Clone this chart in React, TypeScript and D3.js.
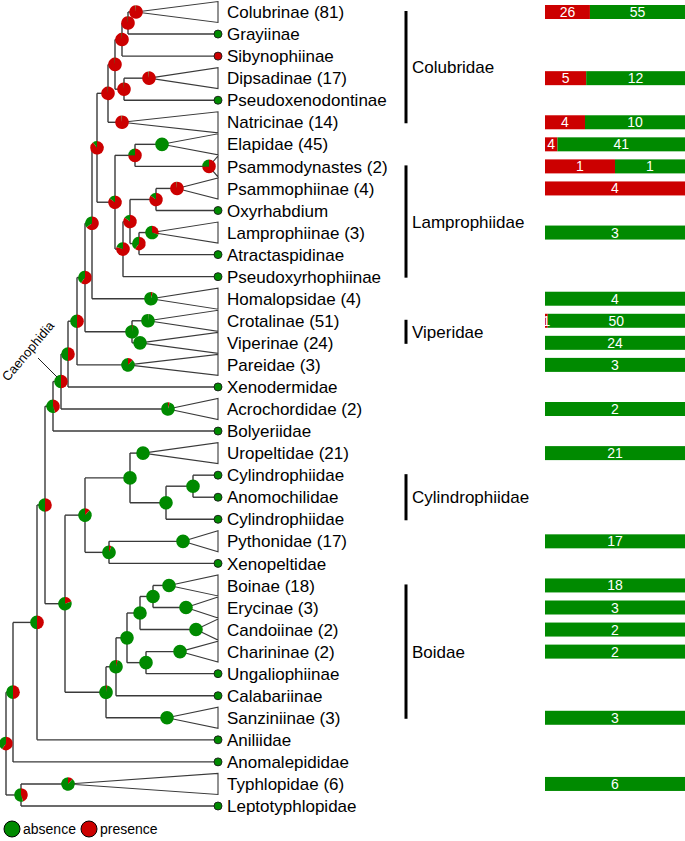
import React from 'react';
import * as d3 from 'd3';

// ---------- DATA ----------
const tipNames = [
  'Colubrinae (81)', 'Grayiinae', 'Sibynophiinae', 'Dipsadinae (17)', 'Pseudoxenodontinae',
  'Natricinae (14)', 'Elapidae (45)', 'Psammodynastes (2)', 'Psammophiinae (4)', 'Oxyrhabdium',
  'Lamprophiinae (3)', 'Atractaspidinae', 'Pseudoxyrhophiinae', 'Homalopsidae (4)', 'Crotalinae (51)',
  'Viperinae (24)', 'Pareidae (3)', 'Xenodermidae', 'Acrochordidae (2)', 'Bolyeriidae',
  'Uropeltidae (21)', 'Cylindrophiidae', 'Anomochilidae', 'Cylindrophiidae', 'Pythonidae (17)',
  'Xenopeltidae', 'Boinae (18)', 'Erycinae (3)', 'Candoiinae (2)', 'Charininae (2)',
  'Ungaliophiinae', 'Calabariinae', 'Sanziniinae (3)', 'Aniliidae', 'Anomalepididae',
  'Typhlopidae (6)', 'Leptotyphlopidae',
];

// depth of the collapsed-clade apex (null = single tip)
const apexDepth: (number | null)[] = [
  130, null, null, 143, null, 116, 156, 203, 171, null,
  146, null, null, 145, 142, 134, 122, null, 162, null,
  137, null, null, null, 177, null, 163, 180, 190, 174,
  null, null, 161, null, null, 62, null,
];

// probability of presence at tips / clade apex
const tipPresence = [
  0.99, 0, 1, 0.99, 0, 0.99, 0, 0.75, 0.99, 0,
  0.3, 0, 0, 0.04, 0.01, 0, 0.12, 0, 0.04, 0,
  0, 0, 0, 0, 0, 0, 0, 0, 0, 0,
  0, 0, 0, 0, 0, 0.12, 0,
];

// species counts: presence / absence
const barPresence = [
  26, 0, 0, 5, 0, 4, 4, 1, 4, 0,
  0, 0, 0, 0, 1, 0, 0, 0, 0, 0,
  0, 0, 0, 0, 0, 0, 0, 0, 0, 0,
  0, 0, 0, 0, 0, 0, 0,
];
const barAbsence = [
  55, 0, 0, 12, 0, 10, 41, 1, 0, 0,
  3, 0, 0, 4, 50, 24, 3, 0, 2, 0,
  21, 0, 0, 0, 17, 0, 18, 3, 2, 2,
  0, 0, 3, 0, 0, 6, 0,
];

// tree: leaves are tip indices, internal labels are depth|presence-probability
const colubridae = '(((((0,1)122|0.99,2)116|0.99,(3,4)118|0.99)109|0.99,5)102|0.99';
const lamprophiidae = '((6,7)129|0.75,(((8,9)150|0.85,(10,11)133|0.6)124|0.85,12)117|0.8)109|0.85';
const caenophidia = '((((((' + colubridae + ',' + lamprophiidae + ')91|0.9,13)86|0.65,(14,15)126|0.02)79|0.6,16)71|0.5,17)62|0.5,18)55|0.5';
const henophidia = '(((20,((21,22)187|0,23)160|0)124|0,(24,25)103|0.06)79|0.12,(((((26,27)147|0,28)134|0,(29,30)140|0)121|0,31)110|0.04,32)100|0.03)59|0.2';
const treeNewick = '((((' + '(' + caenophidia + ',19)47|0.45,' + henophidia + ')39|0.5,33)31|0.5,34)7|0.5,(35,36)15|0.45)0|0.6';

const groups = [
  { name: 'Colubridae', from: 0, to: 5 },
  { name: 'Lamprophiidae', from: 7, to: 12 },
  { name: 'Viperidae', from: 14, to: 15 },
  { name: 'Cylindrophiidae', from: 21, to: 23 },
  { name: 'Boidae', from: 26, to: 32 },
];

const legendItems = [
  { label: 'absence', state: 0 },
  { label: 'presence', state: 1 },
];

// ---------- STYLE ----------
const RED = '#cc0000';
const GREEN = '#008a00';
const FONT = '"Liberation Sans", Arial, Helvetica, sans-serif';
const TIP_DEPTH = 212;

type TNode = { leaf?: number; depth?: number; red?: number; children?: TNode[]; x?: number; y?: number };

function parseTree(s: string): TNode {
  let i = 0;
  function read(): TNode {
    if (s[i] === '(') {
      i++;
      const children = [read()];
      while (s[i] === ',') { i++; children.push(read()); }
      i++; // ')'
      let lab = '';
      while (i < s.length && s[i] !== ',' && s[i] !== ')') lab += s[i++];
      const [d, r] = lab.split('|').map(Number);
      return { children, depth: d, red: r };
    }
    let lab = '';
    while (i < s.length && s[i] !== ',' && s[i] !== ')') lab += s[i++];
    return { leaf: +lab };
  }
  return read();
}

export default function App() {
  const W = 685, H = 841;
  const xScale = d3.scaleLinear().domain([0, TIP_DEPTH]).range([6, 218]);
  const yScale = d3.scaleLinear().domain([0, tipNames.length - 1]).range([12, 806]);
  const barX = d3.scaleLinear().domain([0, 1]).range([545, 685]);

  const root = parseTree(treeNewick);
  const internals: TNode[] = [];
  const leaves: TNode[] = [];
  (function layout(n: TNode) {
    if (n.children) {
      n.children.forEach(layout);
      n.x = xScale(n.depth!);
      n.y = d3.mean(n.children, (c) => c.y!)!;
      internals.push(n);
    } else {
      const a = apexDepth[n.leaf!];
      n.x = xScale(a == null ? TIP_DEPTH : a);
      n.y = yScale(n.leaf!);
      leaves.push(n);
    }
  })(root);

  const pie = d3.pie<number>().sort(null).value((d) => d);
  const arc = d3.arc<d3.PieArcDatum<number>>().innerRadius(0);

  const pieMarks = (cx: number, cy: number, red: number, r: number, key: string, stroke?: string) => {
    const arcs = pie([red, 1 - red]);
    return (
      <g key={key} transform={`translate(${cx},${cy})`}>
        {arcs.map((a, i) =>
          a.endAngle - a.startAngle > 0 ? (
            <path key={i} d={arc.outerRadius(r)(a)!} fill={i === 0 ? RED : GREEN} />
          ) : null
        )}
        {stroke ? <circle r={r} fill="none" stroke={stroke} strokeWidth={0.9} /> : null}
      </g>
    );
  };

  const lineColor = '#3a3a3a';
  const branches: JSX.Element[] = [];
  internals.forEach((n, k) => {
    const ys = n.children!.map((c) => c.y!);
    branches.push(
      <line key={`v${k}`} x1={n.x} x2={n.x} y1={d3.min(ys)} y2={d3.max(ys)} stroke={lineColor} strokeWidth={1.4} />
    );
    n.children!.forEach((c, j) => {
      branches.push(
        <line key={`h${k}_${j}`} x1={n.x} x2={c.x} y1={c.y} y2={c.y} stroke={lineColor} strokeWidth={1.4} />
      );
    });
  });
  const tipX = xScale(TIP_DEPTH);

  return (
    <svg width={W} height={H} style={{ position: 'absolute', left: 0, top: 0, background: '#fff' }} fontFamily={FONT}>
      <g>{branches}</g>
      {/* collapsed clade triangles */}
      <g>
        {leaves.filter((l) => apexDepth[l.leaf!] != null).map((l) => (
          <path
            key={`tri${l.leaf}`}
            d={`M${l.x},${l.y}L${tipX},${l.y! - 10.5}L${tipX},${l.y! + 10.5}Z`}
            fill="#fff"
            stroke={lineColor}
            strokeWidth={1.1}
          />
        ))}
      </g>
      {/* internal node pies */}
      <g>{internals.map((n, k) => pieMarks(n.x!, n.y!, n.red!, 6.8, `n${k}`))}</g>
      {/* tip pies / dots */}
      <g>
        {leaves.map((l) =>
          apexDepth[l.leaf!] != null
            ? pieMarks(l.x!, l.y!, tipPresence[l.leaf!], 6.8, `t${l.leaf}`)
            : pieMarks(l.x!, l.y!, tipPresence[l.leaf!], 4, `t${l.leaf}`, '#1a1a1a')
        )}
      </g>
      {/* tip labels */}
      <g fontSize={17} fill="#000">
        {tipNames.map((name, i) => (
          <text key={`lab${i}`} x={tipX + 9} y={yScale(i)} dy="0.36em">{name}</text>
        ))}
      </g>
      {/* Caenophidia label */}
      <g>
        <line x1={38} y1={358} x2={57} y2={377} stroke="#222" strokeWidth={1} />
        <text transform="translate(8,382) rotate(-50)" fontSize={13} fill="#000">Caenophidia</text>
      </g>
      {/* group brackets */}
      <g>
        {groups.map((g) => (
          <g key={g.name}>
            <line x1={406} x2={406} y1={yScale(g.from) - 1} y2={yScale(g.to) + 1} stroke="#000" strokeWidth={3} />
            <text x={412} y={(yScale(g.from) + yScale(g.to)) / 2} dy="0.36em" fontSize={17} fill="#000">{g.name}</text>
          </g>
        ))}
      </g>
      {/* bars */}
      <g fontSize={14} fill="#fff" textAnchor="middle">
        {tipNames.map((_, i) => {
          const p = barPresence[i], a = barAbsence[i], tot = p + a;
          if (tot === 0) return null;
          const y = yScale(i);
          const xm = barX(p / tot);
          return (
            <g key={`bar${i}`}>
              {p > 0 && <rect x={barX(0)} y={y - 7} width={xm - barX(0)} height={14} fill={RED} />}
              {a > 0 && <rect x={xm} y={y - 7} width={barX(1) - xm} height={14} fill={GREEN} />}
              {p > 0 && <text x={(barX(0) + xm) / 2} y={y} dy="0.36em">{p}</text>}
              {a > 0 && <text x={(xm + barX(1)) / 2} y={y} dy="0.36em">{a}</text>}
            </g>
          );
        })}
      </g>
      {/* legend */}
      <g>
        {legendItems.map((it, i) => {
          const cx = i === 0 ? 12 : 89;
          return (
            <g key={it.label}>
              <circle cx={cx} cy={829} r={8} fill={it.state ? RED : GREEN} stroke="#000" strokeWidth={1} />
              <text x={cx + 11} y={829} dy="0.36em" fontSize={14} fill="#000">{it.label}</text>
            </g>
          );
        })}
      </g>
    </svg>
  );
}
